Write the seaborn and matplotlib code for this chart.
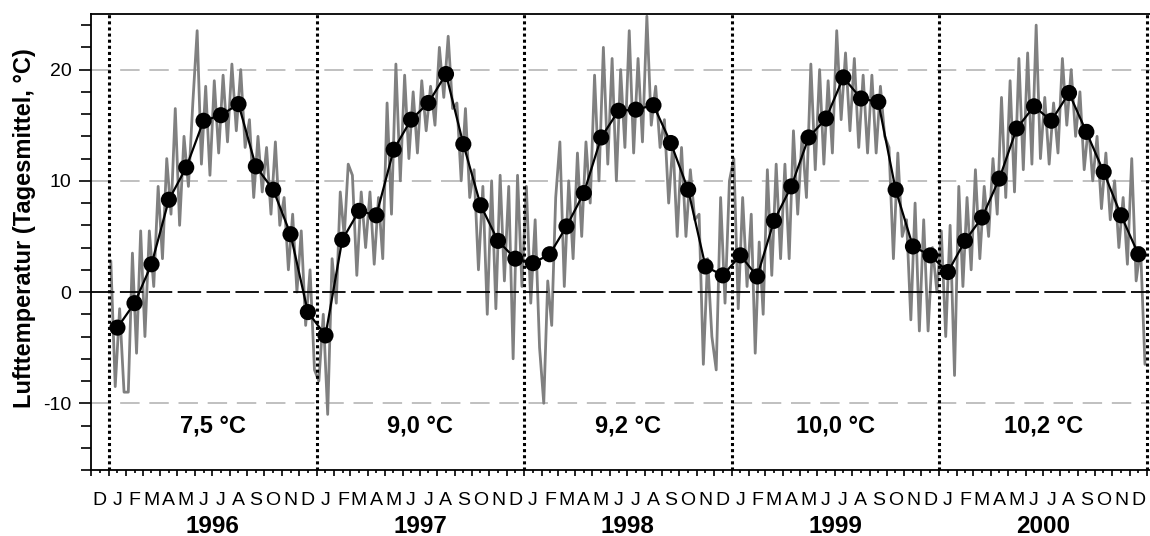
import numpy as np
import pandas as pd
import matplotlib
matplotlib.use("Agg")
import matplotlib.pyplot as plt
import matplotlib.dates as mdates
import matplotlib.ticker as mticker
import seaborn as sns

# ---------------- data ----------------
years = [1996, 1997, 1998, 1999, 2000]
month_letters = ["J", "F", "M", "A", "M", "J", "J", "A", "S", "O", "N", "D"]
annual_mean_labels = ["7,5 °C", "9,0 °C", "9,2 °C", "10,0 °C", "10,2 °C"]

# monthly means (°C), Jan..Dec
monthly_1996 = [-3.2, -1.0, 2.5, 8.3, 11.2, 15.4, 15.9, 16.9, 11.3, 9.2, 5.2, -1.8]
monthly_1997 = [-3.9, 4.7, 7.3, 6.9, 12.8, 15.5, 17.0, 19.6, 13.3, 7.8, 4.6, 3.0]
monthly_1998 = [2.6, 3.4, 5.9, 8.9, 13.9, 16.3, 16.4, 16.8, 13.4, 9.2, 2.3, 1.5]
monthly_1999 = [3.3, 1.4, 6.4, 9.5, 13.9, 15.6, 19.3, 17.4, 17.1, 9.2, 4.1, 3.3]
monthly_2000 = [1.8, 4.6, 6.7, 10.2, 14.7, 16.7, 15.4, 17.9, 14.4, 10.8, 6.9, 3.4]

# daily means, sampled as 4 readings (peaks / troughs) per month, Jan..Dec
daily_1996 = [2.8, -8.5, -1.5, -9.0,   -9.0, 3.5, -5.5, 5.5,    -4.0, 5.5, 0.5, 9.5,
              3.0, 12.0, 7.0, 16.5,    6.0, 14.0, 9.5, 17.0,    23.5, 11.5, 18.5, 10.5,
              19.0, 12.5, 19.5, 13.5,  20.5, 14.5, 20.0, 13.0,  15.5, 8.5, 14.0, 9.0,
              13.0, 7.0, 13.5, 6.0,    8.5, 2.0, 7.0, 0.0,      5.5, -3.0, 2.0, -7.0]
daily_1997 = [-8.0, -2.0, -11.0, 3.0,  -1.0, 9.0, 5.0, 11.5,    10.5, 1.5, 9.0, 4.0,
              9.0, 2.5, 8.5, 3.0,      17.0, 7.0, 20.5, 10.0,   19.5, 12.0, 18.0, 12.5,
              19.0, 14.5, 18.5, 15.0,  22.0, 17.5, 23.0, 16.5,  17.0, 10.0, 16.5, 8.5,
              11.0, 2.0, 9.5, -2.0,    10.0, -1.5, 10.5, 1.0,   9.5, -6.0, 10.5, 0.5]
daily_1998 = [9.5, -1.0, 6.5, -5.0,    -10.0, 1.0, -3.0, 8.5,   13.5, 0.5, 10.0, 3.0,
              12.5, 5.0, 13.5, 8.0,    19.5, 10.0, 22.0, 11.5,  21.0, 10.0, 20.0, 13.0,
              23.5, 12.5, 21.0, 13.5,  24.8, 15.0, 18.5, 13.0,  15.5, 8.0, 13.5, 5.0,
              13.0, 5.0, 11.0, 6.5,    7.0, -6.5, 3.0, -4.0,    -7.0, 8.5, -1.0, 10.0]
daily_1999 = [12.0, -1.5, 8.5, 0.5,    7.0, -5.5, 4.5, -2.0,    11.0, 1.5, 11.5, 3.0,
              11.5, 3.0, 14.5, 7.0,    14.0, 8.5, 20.5, 11.0,   20.0, 11.5, 19.0, 12.5,
              23.5, 15.5, 21.5, 14.5,  21.0, 13.0, 19.5, 12.5,  19.5, 12.5, 18.5, 14.0,
              13.0, 3.0, 12.5, 5.0,    6.5, -2.5, 8.0, -3.5,    6.5, -3.5, 4.0, 0.0]
daily_2000 = [5.5, -4.0, 6.0, -7.5,    9.5, 0.5, 8.5, 2.0,      11.0, 3.0, 9.5, 5.0,
              12.0, 7.0, 17.5, 8.5,    19.0, 9.0, 21.0, 11.0,   21.5, 11.5, 24.0, 12.0,
              17.5, 11.5, 17.0, 12.5,  21.0, 15.0, 20.0, 14.0,  18.0, 11.0, 15.0, 10.0,
              14.0, 7.5, 12.5, 6.5,    10.0, 4.0, 8.5, 2.5,     12.0, 1.0, 4.0, -6.5]

monthly = [monthly_1996, monthly_1997, monthly_1998, monthly_1999, monthly_2000]
daily = [daily_1996, daily_1997, daily_1998, daily_1999, daily_2000]

# ---------------- build tables ----------------
d_rows, m_rows = [], []
for yr, dvals, mvals in zip(years, daily, monthly):
    for m in range(12):
        start = pd.Timestamp(yr, m + 1, 1)
        nd = start.days_in_month
        for k in range(4):
            d_rows.append((start + pd.Timedelta(days=(k + 0.5) * nd / 4), dvals[m * 4 + k]))
        m_rows.append((start + pd.Timedelta(days=nd / 2), mvals[m]))
df_d = pd.DataFrame(d_rows, columns=["date", "temp"])
df_m = pd.DataFrame(m_rows, columns=["date", "temp"])

# ---------------- figure ----------------
sns.set_theme(style="white")
plt.rcParams["font.family"] = ["Liberation Sans", "DejaVu Sans"]
plt.rcParams.update({"text.color": "black", "axes.labelcolor": "black",
                     "xtick.color": "black", "ytick.color": "black",
                     "axes.unicode_minus": False})

fig = plt.figure(figsize=(11.5, 5.36), dpi=100)
ax = fig.add_axes([91 / 1150, 66 / 536, 1 - 91 / 1150, 456 / 536])

# grid lines
for v in (20, 10, -10):
    ax.axhline(v, color="#c0c0c0", lw=1.4, dashes=(10, 5), zorder=1)
ax.axhline(0, color="black", lw=1.3, dashes=(13, 3), zorder=4)

sns.lineplot(data=df_d, x="date", y="temp", ax=ax, color="#808080", lw=2.0,
             estimator=None, sort=False, zorder=2)
sns.lineplot(data=df_m, x="date", y="temp", ax=ax, color="black", lw=1.6,
             estimator=None, sort=False, zorder=5)
sns.scatterplot(data=df_m, x="date", y="temp", ax=ax, color="black", s=135,
                edgecolor="none", zorder=6)

# year separators
for yr in years + [2001]:
    ax.axvline(pd.Timestamp(yr, 1, 1), color="black", ls=(0, (1, 1)), lw=2.2, zorder=7)

ax.set_xlim(pd.Timestamp(1995, 12, 1), pd.Timestamp(2001, 1, 6))
ax.set_ylim(-16, 25)

# y axis
ax.yaxis.set_major_locator(mticker.MultipleLocator(10))
ax.yaxis.set_minor_locator(mticker.MultipleLocator(2))
ax.tick_params(axis="y", which="major", length=9, width=1.2, direction="out",
               labelsize=14, pad=5, left=True)
ax.tick_params(axis="y", which="minor", length=7, width=1.2, direction="out", left=True)
ax.set_ylabel("")
fig.text(25 / 1150, 1 - 228 / 536, "Lufttemperatur (Tagesmittel, °C)", rotation=90,
         ha="center", va="center", fontsize=17, fontweight="bold")

# x axis: ticks at month starts, letters at mid-month
ax.xaxis.set_major_locator(mdates.MonthLocator())
ax.xaxis.set_major_formatter(mticker.NullFormatter())
ax.xaxis.set_minor_locator(mdates.MonthLocator(bymonthday=16))
ax.xaxis.set_minor_formatter(mticker.FuncFormatter(
    lambda x, pos: month_letters[mdates.num2date(x).month - 1]))
ax.tick_params(axis="x", which="major", length=4, width=1.2, direction="out", bottom=True)
ax.tick_params(axis="x", which="minor", length=2, width=1.2, direction="out", bottom=True,
               labelsize=14, pad=14)
ax.set_xlabel("")

for yr, lab in zip(years, annual_mean_labels):
    mid = pd.Timestamp(yr, 7, 2)
    ax.text(mid, -12.0, lab, ha="center", va="center", fontsize=17, fontweight="bold")
    ax.text(mid, -0.124, str(yr), transform=ax.get_xaxis_transform(), ha="center",
            va="center", fontsize=17.5, fontweight="bold")

for s in ("left", "bottom", "top"):
    ax.spines[s].set_color("black")
    ax.spines[s].set_linewidth(1.3)
ax.spines["right"].set_visible(False)

fig.savefig("out.png", dpi=100)
